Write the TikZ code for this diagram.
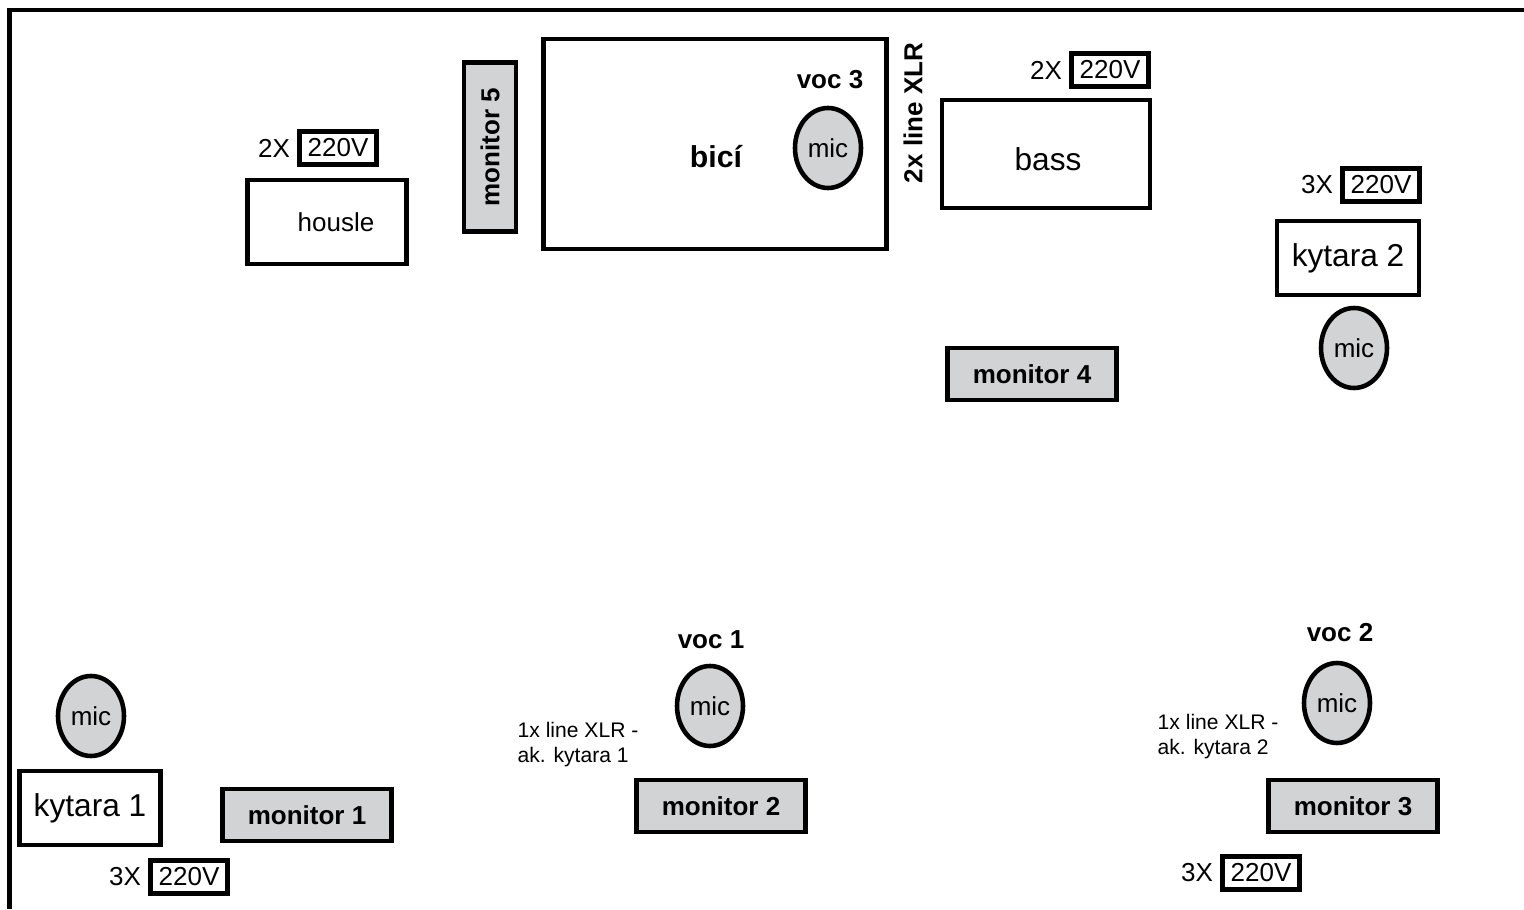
\documentclass[tikz,border=0pt]{standalone}
\usepackage{fontspec}
\setmainfont{Liberation Sans}
\usetikzlibrary{positioning,shapes.geometric}
\definecolor{mongray}{HTML}{D1D3D4}
\newcommand{\fsmall}{\fontsize{6}{7.1}\selectfont}
\newcommand{\fnorm}{\fontsize{7.4}{8.6}\selectfont}
\newcommand{\fbig}{\fontsize{9}{10.5}\selectfont}
\tikzstyle{box}     = [draw, line width=1.3pt, fill=white, inner sep=0pt]
\tikzstyle{amp}     = [box, font=\fbig]
\tikzstyle{monitor} = [box, fill=mongray, font=\fnorm\bfseries, minimum width=1.69cm, minimum height=0.52cm]
\tikzstyle{plug}    = [box, font=\fnorm, minimum width=0.77cm, minimum height=0.33cm]
\tikzstyle{count}   = [font=\fnorm, inner sep=1pt]
\tikzstyle{mic}     = [ellipse, draw, line width=1.3pt, fill=mongray, inner sep=0pt, font=\fnorm, minimum width=0.66cm, minimum height=0.8cm]
\tikzstyle{voc}     = [font=\fnorm\bfseries, inner sep=1pt]
\tikzstyle{note}    = [font=\fsmall, align=left, anchor=west, inner sep=0pt]

\begin{document}
\begin{tikzpicture}
    \useasboundingbox (0,0) rectangle (15.24,9.09);
    % stage edge
    \draw[line width=1.3pt] (0.095,0) -- (0.095,8.99) -- (15.24,8.99);

    % back row
    \node[amp, font=\fnorm, minimum width=1.59cm, minimum height=0.84cm] (housle) at (3.27,6.87) {\hspace{0.18cm}housle};
    \node[plug] (housleP) at (3.38,7.61) {220V};
    \node[count, left=0.03cm of housleP] {2X};
    \node[monitor, rotate=90] (mon5) at (4.90,7.62) {monitor 5};
    \node[box, minimum width=3.43cm, minimum height=2.10cm] (bici) at (7.15,7.65) {};
    \node[font=\fontsize{8.6}{10}\selectfont\bfseries] at (7.16,7.52) {bicí};
    \node[mic] (mic3) at (8.28,7.61) {mic};
    \node[voc] at (8.30,8.29) {voc 3};
    \node[font=\fnorm\bfseries, rotate=90] (xlr2) at (9.13,7.96) {2x line XLR};
    \node[amp, minimum width=2.08cm, minimum height=1.08cm] (bass) at (10.46,7.55) {};
    \node[font=\fbig] at (10.48,7.50) {bass};
    \node[plug] (bassP) at (11.10,8.39) {220V};
    \node[count, left=0.03cm of bassP] {2X};
    \node[amp, minimum width=1.42cm, minimum height=0.74cm] (kyt2) at (13.48,6.51) {kytara 2};
    \node[plug] (kyt2P) at (13.81,7.24) {220V};
    \node[count, left=0.03cm of kyt2P] {3X};
    \node[mic] (mick2) at (13.54,5.61) {mic};
    \node[monitor] (mon4) at (10.32,5.35) {monitor 4};

    % front row
    \node[mic] (mick1) at (0.91,1.93) {mic};
    \node[amp, minimum width=1.41cm, minimum height=0.74cm] (kyt1) at (0.90,1.01) {kytara 1};
    \node[monitor] (mon1) at (3.07,0.94) {monitor 1};
    \node[plug] (kyt1P) at (1.89,0.32) {220V};
    \node[count, left=0.03cm of kyt1P] {3X};

    \node[mic] (mic1) at (7.10,2.03) {mic};
    \node[voc] at (7.11,2.69) {voc 1};
    \node[note] at (5.17,1.64) {1x line XLR -\\ak. kytara 1};
    \node[monitor] (mon2) at (7.21,1.03) {monitor 2};

    \node[mic] (mic2) at (13.37,2.06) {mic};
    \node[voc] at (13.40,2.76) {voc 2};
    \node[note] at (11.57,1.72) {1x line XLR -\\ak. kytara 2};
    \node[monitor] (mon3) at (13.53,1.03) {monitor 3};
    \node[plug] (mon3P) at (12.61,0.36) {220V};
    \node[count, left=0.03cm of mon3P] {3X};
\end{tikzpicture}
\end{document}
